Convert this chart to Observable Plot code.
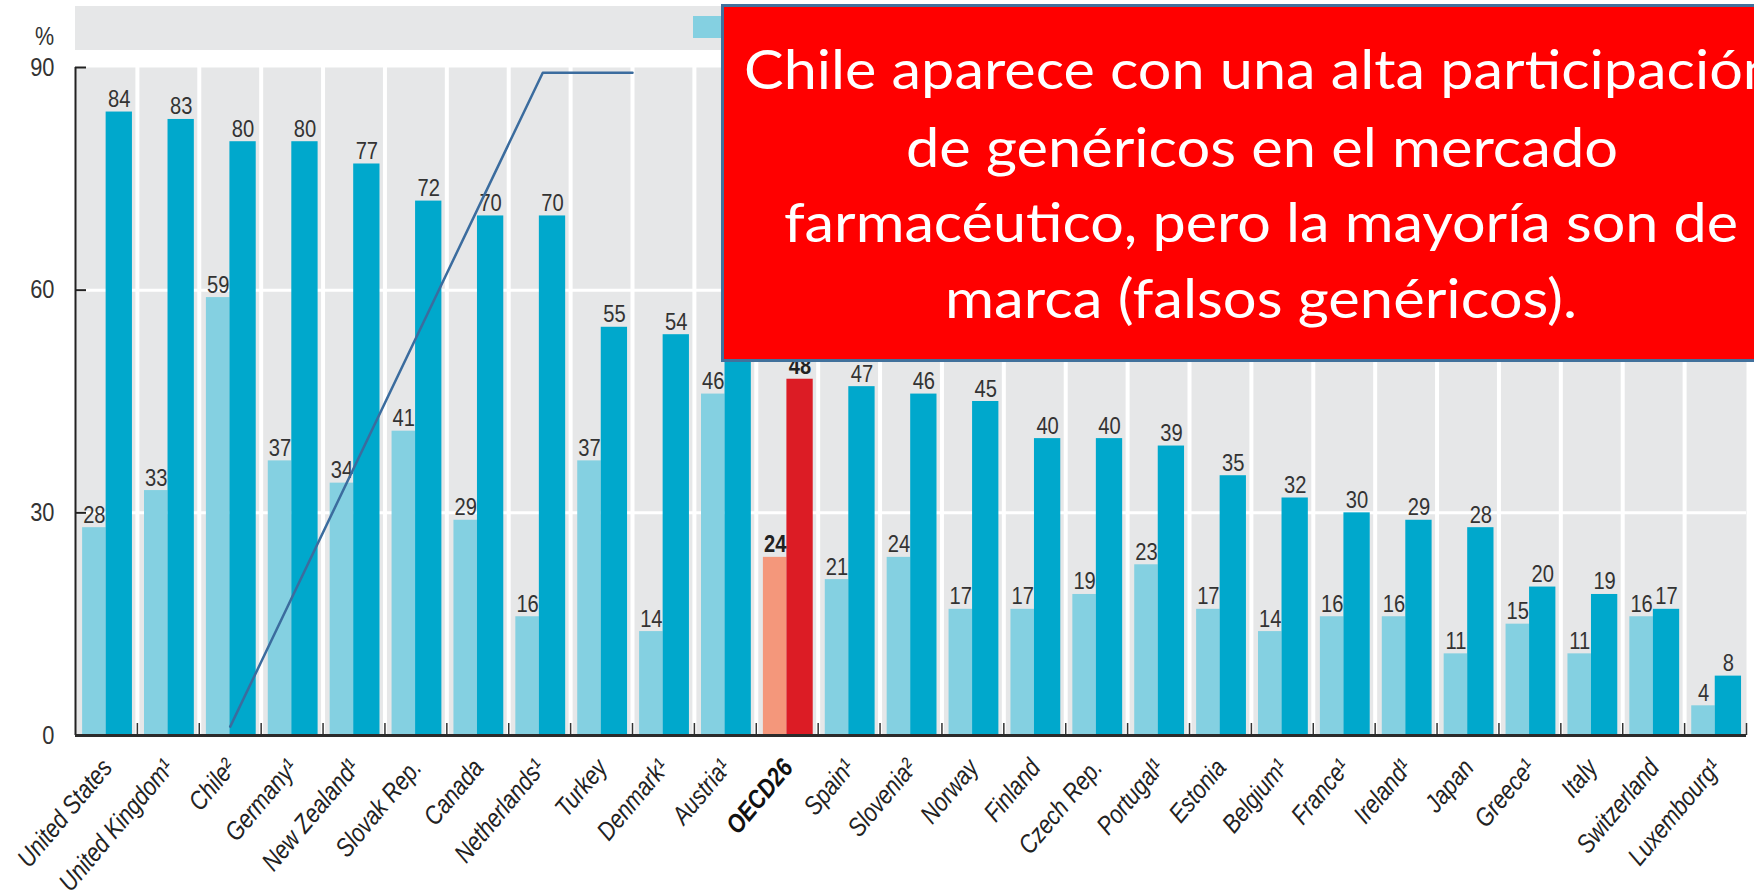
<!DOCTYPE html>
<html>
<head>
<meta charset="utf-8">
<script src="https://cdn.jsdelivr.net/npm/d3@7"></script>
<script src="https://cdn.jsdelivr.net/npm/@observablehq/plot@0.6"></script>
<style>
  html, body { margin: 0; padding: 0; background: #fff; overflow: hidden; }
  #page { position: relative; width: 1754px; height: 890px; }
  #legend { position: relative; width: 1754px; height: 56px; font-family: "Liberation Sans", Arial, sans-serif; }
  #legend .band { position: absolute; left: 75px; top: 6px; width: 1671px; height: 44px; background: #e6e7e8; }
  #legend .sw { position: absolute; top: 16px; width: 28px; height: 22px; }
  #legend .pct { position: absolute; left: 0; width: 54px; top: 22px; text-align: right; font-size: 25px; color: #333; line-height: 28px; transform: scaleX(0.86); transform-origin: right center; }
  #overlay { position: absolute; left: 0; top: 0; }
</style>
</head>
<body>
<div id="page">
  <div id="legend"></div>
  <div id="chart"></div>
</div>
<script>
// ---- data ----
const countries = ["United States","United Kingdom¹","Chile²","Germany¹","New Zealand¹","Slovak Rep.","Canada","Netherlands¹","Turkey","Denmark¹","Austria¹","OECD26","Spain¹","Slovenia²","Norway","Finland","Czech Rep.","Portugal¹","Estonia","Belgium¹","France¹","Ireland¹","Japan","Greece¹","Italy","Switzerland","Luxembourg¹"];
const valueShare  = [28,33,59,37,34,41,29,16,37,14,46,24,21,24,17,17,19,23,17,14,16,16,11,15,11,16,4];
const volumeShare = [84,83,80,80,77,72,70,70,55,54,52,48,47,46,45,40,40,39,35,32,30,29,28,20,19,17,8];
const yTicks = [0, 30, 60, 90];
// annotation path drawn on the slide (group index units, %)
const arrowX = [2.5, 7.55, 9.0];
const arrowY = [1.2, 89.3, 89.3];
const noteLines = ["Chile aparece con una alta participación", "de genéricos en el mercado", "farmacéutico, pero la mayoría son de", "marca (falsos genéricos)."];

// ---- styles ----
const font = "'Liberation Sans', Arial, sans-serif";
const squeeze = 0.84; // narrow (condensed) look of the original typeface
const col = {light: "#84d0e1", dark: "#00a8cc", oLight: "#f4977b", oDark: "#dc1c25", bg: "#e6e7e8", ink: "#2e2e2e"};

// legend strip (above svg); its labels are hidden under the call-out on the slide
const legend = document.getElementById("legend");
legend.innerHTML = `
  <div class="pct">%</div>
  <div class="band"></div>
  <div class="sw" style="left:693px;background:${col.light}"></div>
  <div class="sw" style="left:820px;background:${col.dark}"></div>`;

const W = 1754, H = 834, mT = 11, mB = 155, mL = 75, mR = 8;
const innerW = W - mL - mR, innerH = H - mT - mB;
const n = countries.length;

const rows = countries.map((c, i) => ({c, i, v: valueShare[i], w: volumeShare[i], oecd: c === "OECD26"}));
const arrow = arrowX.map((x, k) => ({x, y: arrowY[k]}));
const bounds = d3.range(1, n + 1);

const L0 = 0.115, L1 = 0.495, D1 = 0.92;
const labelOpts = {x: d => d.i + 0.5, y: 0, text: "c", rotate: -50, textAnchor: "end", lineAnchor: "bottom", dx: 7, dy: 33, fontSize: 26, fontStyle: "italic"};

const chart = Plot.plot({
  width: W, height: H,
  marginTop: mT, marginBottom: mB, marginLeft: mL, marginRight: mR,
  x: {domain: [0, n], axis: null},
  y: {domain: [0, 90], axis: null},
  style: {fontFamily: font, overflow: "visible", background: "transparent", color: col.ink},
  marks: [
    Plot.frame({fill: col.bg, stroke: "none"}),
    Plot.ruleY([30, 60], {stroke: "white", strokeWidth: 3}),
    Plot.ruleX(d3.range(1, n), {stroke: "white", strokeWidth: 4}),
    Plot.rect(rows, {x1: d => d.i + L0, x2: d => d.i + L1, y1: 0, y2: "v", fill: d => d.oecd ? col.oLight : col.light}),
    Plot.rect(rows, {x1: d => d.i + L1, x2: d => d.i + D1, y1: 0, y2: "w", fill: d => d.oecd ? col.oDark : col.dark}),
    // value labels
    Plot.text(rows.filter(d => !d.oecd), {x: d => d.i + (L0 + L1) / 2, y: "v", text: d => String(d.v), lineAnchor: "bottom", dy: -5, fontSize: 24, fill: "#333"}),
    Plot.text(rows.filter(d => !d.oecd), {x: d => d.i + (L1 + D1) / 2, y: "w", text: d => String(d.w), lineAnchor: "bottom", dy: -5, fontSize: 24, fill: "#333"}),
    Plot.text(rows.filter(d => d.oecd), {x: d => d.i + (L0 + L1) / 2, y: "v", text: d => String(d.v), lineAnchor: "bottom", dy: -5, fontSize: 24, fontWeight: "bold", fill: "#222"}),
    Plot.text(rows.filter(d => d.oecd), {x: d => d.i + (L1 + D1) / 2, y: "w", text: d => String(d.w), lineAnchor: "bottom", dy: -5, fontSize: 24, fontWeight: "bold", fill: "#222"}),
    // axes
    Plot.ruleX(bounds, {stroke: "#333", strokeWidth: 1.5, insetTop: innerH - 12}),
    Plot.ruleY([30, 60, 90], {stroke: "#222", strokeWidth: 2, insetRight: innerW - 11}),
    Plot.ruleX([0], {stroke: "#222", strokeWidth: 2}),
    Plot.ruleY([0], {stroke: "#2b2b2b", strokeWidth: 3}),
    Plot.axisY({ticks: yTicks, tickSize: 0, tickPadding: 21, fontSize: 26, label: null, fill: "#333"}),
    // category labels
    Plot.text(rows.filter(d => !d.oecd), {...labelOpts, fill: "#222"}),
    Plot.text(rows.filter(d => d.oecd), {...labelOpts, fontWeight: "bold", fill: "#111"}),
    // hand-drawn annotation line
    Plot.line(arrow, {x: "x", y: "y", stroke: "#3b6c9e", strokeWidth: 2.5})
  ]
});

// condense every text glyph horizontally (Arial-Narrow look), keeping its anchor point
chart.querySelectorAll("text").forEach(t => {
  const tr = t.getAttribute("transform") || "";
  const xa = t.getAttribute("x");
  if (xa !== null && !isNaN(+xa)) t.setAttribute("x", +xa / squeeze);
  t.setAttribute("transform", `${tr} scale(${squeeze},1)`);
});
document.getElementById("chart").appendChild(chart);

// red call-out box (slide annotation, on top)
const ov = d3.select("#page").append("svg").attr("id", "overlay").attr("width", 1754).attr("height", 890);
ov.append("rect").attr("x", 722.5).attr("y", 5.5).attr("width", 1100).attr("height", 355)
  .attr("fill", "#ff0000").attr("stroke", "#41719c").attr("stroke-width", 3);
const noteX = [744, 906, 784, 945], noteBase = [89, 167, 242, 318], noteLen = [1032, 712, 954, 632];
noteLines.forEach((t, k) => {
  ov.append("text").attr("x", noteX[k]).attr("y", noteBase[k])
    .attr("textLength", noteLen[k]).attr("lengthAdjust", "spacingAndGlyphs")
    .attr("font-family", "Lato, 'Open Sans', sans-serif").attr("font-size", 55)
    .attr("fill", "white").text(t);
});
</script>
</body>
</html>
